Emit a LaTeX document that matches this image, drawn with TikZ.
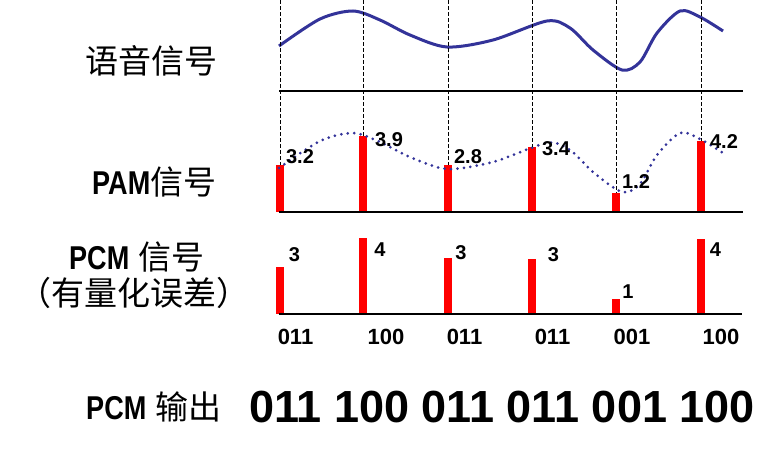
\documentclass[tikz,border=0pt]{standalone}
\usepackage{fontspec}
\setmainfont{Liberation Sans}
\newfontfamily\cjk{Noto Sans CJK SC}
\usetikzlibrary{positioning}
\definecolor{navy}{RGB}{51, 51, 153}
\definecolor{red}{RGB}{255, 0, 0}
\newcommand{\nar}[1]{\scalebox{0.82}[1]{\bfseries #1}}
\tikzstyle{bar} = [rectangle, fill=red, inner sep=0pt, minimum width=8pt, anchor=south]
\tikzstyle{val} = [inner sep=0pt, font=\fontsize{20}{20}\selectfont\bfseries]
\tikzstyle{code} = [inner sep=0pt, font=\fontsize{22}{22}\selectfont\bfseries]
\tikzstyle{lbl} = [inner sep=0pt, anchor=west, font=\fontsize{33}{33}\selectfont]
\tikzstyle{sline} = [draw, line width=1pt, dash pattern=on 3.5pt off 2.5pt]
\tikzstyle{axis} = [draw, line width=1.3pt]
\tikzstyle{wave} = [draw=navy, line width=3pt]
\tikzstyle{env} = [draw=navy, line width=3pt, line cap=round, dash pattern=on 0pt off 6.5pt]

\begin{document}
\begin{tikzpicture}[x=1pt, y=-1pt]
\useasboundingbox (0,0) rectangle (784,455);

% labels =============================
\node[lbl] (speech) at (85,61) {\cjk 语音信号};
\node[lbl] (pamlbl) at (92,182) {\nar{PAM}{\cjk\mdseries 信号}};
\node[lbl] (pcmlbl) at (69,257) {\nar{PCM} {\cjk\mdseries 信号}};
\node[inner sep=0pt, font=\fontsize{33}{33}\selectfont] (qerr) at (134,293) {\cjk （有量化误差）};
\node[lbl] (outlbl) at (86,407) {\nar{PCM} {\cjk\mdseries 输出}};

% speech signal
\path[wave] plot[smooth] coordinates {(279,46) (320,19) (353,11) (380,20) (410,35) (447,47) (493,40) (547,21) (570,28) (593,50) (622,70) (640,62) (657,33) (680,11) (700,17) (723,31)};
\coordinate (a1) at (279,91);
\coordinate (a2) at (743,91);
\path[axis] (a1) -- (a2);

% PAM samples
\node[bar, minimum height=47pt] (pam1) at (280,212) {};
\node[bar, minimum height=76pt] (pam2) at (363,212) {};
\node[bar, minimum height=47pt] (pam3) at (448,212) {};
\node[bar, minimum height=65pt] (pam4) at (532,212) {};
\node[bar, minimum height=19pt] (pam5) at (616,212) {};
\node[bar, minimum height=71pt] (pam6) at (701,212) {};
\path[env] plot[smooth] coordinates {(279,168) (320,141) (353,133) (380,142) (410,157) (447,169) (493,162) (547,143) (570,150) (593,172) (622,192) (640,184) (657,155) (680,133) (700,139) (723,153)};
\coordinate (b1) at (279,212);
\coordinate (b2) at (743,212);
\path[axis] (b1) -- (b2);

\node[val] (v1) at (300,157) {3.2};
\node[val] (v2) at (389,140) {3.9};
\node[val] (v3) at (468,157) {2.8};
\node[val] (v4) at (556,149) {3.4};
\node[val] (v5) at (636,182) {1.2};
\node[val] (v6) at (724,142) {4.2};

% sampling instants
\coordinate (t1) at (280,0);
\coordinate (t2) at (363,0);
\coordinate (t3) at (448,0);
\coordinate (t4) at (532,0);
\coordinate (t5) at (616,0);
\coordinate (t6) at (701,0);
\path[sline] (t1) -- (pam1.north);
\path[sline] (t2) -- (pam2.north);
\path[sline] (t3) -- (pam3.north);
\path[sline] (t4) -- (pam4.north);
\path[sline] (t5) -- (pam5.north);
\path[sline] (t6) -- (pam6.north);

% PCM (quantized)
\node[bar, minimum height=47pt] (pcm1) at (280,314) {};
\node[bar, minimum height=76pt] (pcm2) at (363,314) {};
\node[bar, minimum height=56pt] (pcm3) at (448,314) {};
\node[bar, minimum height=55pt] (pcm4) at (532,314) {};
\node[bar, minimum height=15pt] (pcm5) at (616,314) {};
\node[bar, minimum height=75pt] (pcm6) at (701,314) {};
\coordinate (c1) at (279,314);
\coordinate (c2) at (742,314);
\path[axis] (c1) -- (c2);

\node[val] (q1) at (294.5,255) {3};
\node[val] (q2) at (380,250) {4};
\node[val] (q3) at (461,253) {3};
\node[val] (q4) at (553.5,255) {3};
\node[val] (q5) at (628,292) {1};
\node[val] (q6) at (715.5,250) {4};

% codes
\node[code] (k1) at (295.5,337) {011};
\node[code] (k2) at (386,337) {100};
\node[code] (k3) at (464.5,337) {011};
\node[code] (k4) at (552.5,337) {011};
\node[code] (k5) at (632,337) {001};
\node[code] (k6) at (721,337) {100};

% output
\node[inner sep=0pt, font=\fontsize{45}{45}\selectfont\bfseries] (out) at (502,407) {011 100 011 011 001 100};

\end{tikzpicture}
\end{document}
